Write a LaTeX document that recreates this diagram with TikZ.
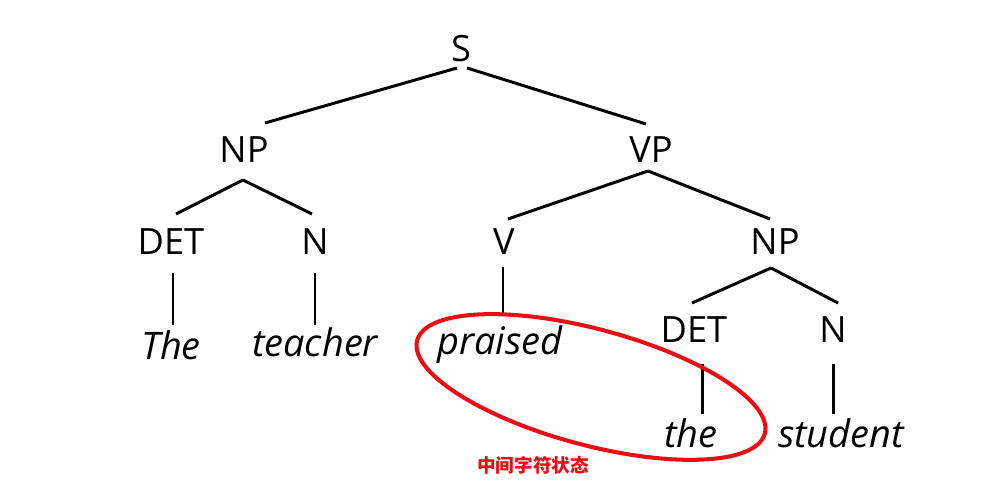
\documentclass[tikz,border=0pt]{standalone}
\usepackage{fontspec}
\setmainfont{Open Sans}
\newfontfamily\cjk{Noto Sans CJK SC}
\usetikzlibrary{calc}

\definecolor{markred}{RGB}{236,12,20}
\newcommand{\catfont}{\fontsize{20.6}{24}\selectfont}
\newcommand{\wordfont}{\fontsize{21.6}{25}\selectfont}

\tikzset{
  cat/.style={font=\catfont, anchor=base, inner sep=0pt},
  word/.style={font=\wordfont\itshape, anchor=base, inner sep=0pt},
  branch/.style={line width=1.7pt},
}

\begin{document}
\begin{tikzpicture}[x=0.02cm, y=-0.02cm]
  \useasboundingbox (0,0) rectangle (994,492);

  % categories
  \node [cat] (s)    at (461,62)  {S};
  \node [cat] (np1)  at (244,163) {NP};
  \node [cat] (vp)   at (651,163) {VP};
  \node [cat] (det1) at (171,255) {DET};
  \node [cat] (n1)   at (315,255) {N};
  \node [cat] (v)    at (504,255) {V};
  \node [cat] (np2)  at (775,255) {NP};
  \node [cat] (det2) at (694,343) {DET};
  \node [cat] (n2)   at (833,343) {N};

  % words
  \node [word] (the1)    at (171,360) {The};
  \node [word] (teacher) at (315,357) {teacher};
  \node [word] (praised) at (500,355) {praised};
  \node [word] (the2)    at (691,448) {the};
  \node [word] (student) at (841,448) {student};

  % branches
  \draw [branch] ($(s.base)+(-4,6)$) -- ($(np1.base)+(21,-40)$);
  \draw [branch] ($(s.base)+(6,6)$) -- ($(vp.base)+(-5,-39)$);
  \draw [branch] ($(np1.base)+(-1,17)$) -- ($(det1.base)+(5,-41)$);
  \draw [branch] ($(np1.base)+(-1,17)$) -- ($(n1.base)+(-3,-41)$);
  \draw [branch] ($(det1.base)+(2,18)$) -- ($(the1.base)+(2,-35)$);
  \draw [branch] ($(n1.base)+(0,18)$) -- ($(teacher.base)+(0,-32)$);
  \draw [branch] ($(vp.base)+(-3,8)$) -- ($(v.base)+(4,-36)$);
  \draw [branch] ($(vp.base)+(-3,8)$) -- ($(np2.base)+(-5,-36)$);
  \draw [branch] ($(v.base)+(-1,12)$) -- ($(praised.base)+(3,-41)$);
  \draw [branch] ($(np2.base)+(-4,13)$) -- ($(det2.base)+(-2,-40)$);
  \draw [branch] ($(np2.base)+(-4,13)$) -- ($(n2.base)+(5,-40)$);
  \draw [branch] ($(det2.base)+(8,21)$) -- ($(the2.base)+(11,-34)$);
  \draw [branch] ($(n2.base)+(0,21)$) -- ($(student.base)+(-8,-34)$);

  % highlighted pair
  \draw [markred, line width=2.3pt, shift={(591,387)}, rotate=-15]
    (0,0) ellipse [x radius=3.6cm, y radius=1.16cm];
  \node [text=markred, font=\cjk\bfseries\fontsize{10.6}{12}\selectfont] (mid) at (533,465) {中间字符状态};
\end{tikzpicture}
\end{document}
